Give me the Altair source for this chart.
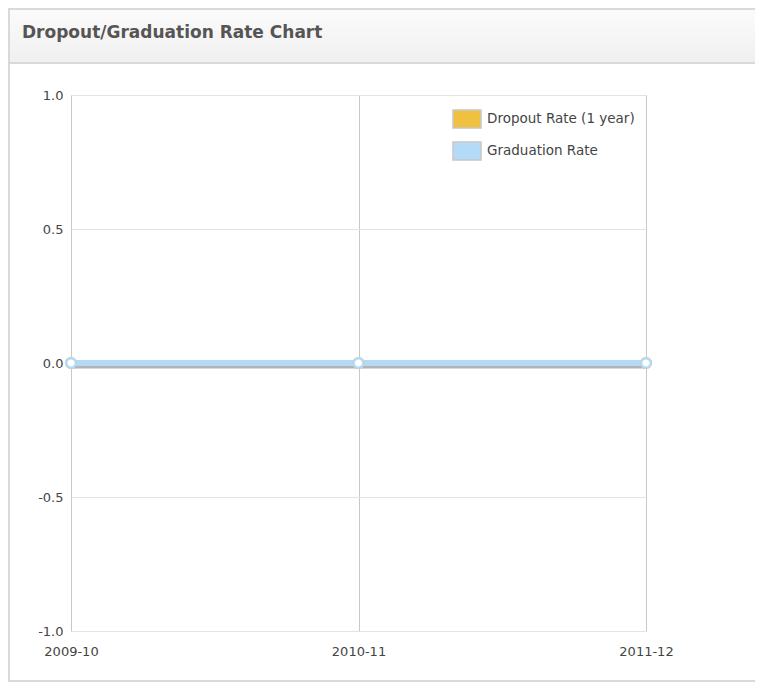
import altair as alt
import pandas as pd

# ---- data ----
years = ["2009-10", "2010-11", "2011-12"]
dropout_rate = [0.0, 0.0, 0.0]
graduation_rate = [0.0, 0.0, 0.0]
series_names = ["Dropout Rate (1 year)", "Graduation Rate"]
series_colors = ["#f0c040", "#b3daf7"]
y_ticks = [-1.0, -0.5, 0.0, 0.5, 1.0]
chart_title = "Dropout/Graduation Rate Chart"

rows = []
for name, vals in zip(series_names, [dropout_rate, graduation_rate]):
    for yr, v in zip(years, vals):
        rows.append({"year": yr, "series": name, "value": v})
df = pd.DataFrame(rows)

# ---- layout ----
W, H = 575, 536
PAD_L, PAD_T = 63, 87
TOTAL_W, TOTAL_H = 747, 674
FONT = "DejaVu Sans"

x_enc = alt.X(
    "year:N", sort=years,
    scale=alt.Scale(type="point", padding=0),
    axis=alt.Axis(title=None, labelAngle=0, ticks=False, domain=False,
                  labelPadding=14, grid=True, gridColor="#c8c8c8",
                  labelFontSize=13, labelColor="#444444", labelFont=FONT),
)
y_enc = alt.Y(
    "value:Q", stack=None,
    scale=alt.Scale(domain=[-1, 1], nice=False, zero=False),
    axis=alt.Axis(title=None, values=y_ticks, ticks=False,
                  labelExpr="datum.value < 0 ? '-' + format(-datum.value, '.1f') : format(datum.value, '.1f')",
                  domain=False, labelPadding=8, gridColor="#e3e3e3",
                  labelFontSize=13, labelColor="#444444", labelFont=FONT),
)

base = alt.Chart(df)
deco = alt.Chart(alt.Data(values=[{"k": 1}]))

panel = deco.mark_rect(fillOpacity=0, stroke="#d9d9d9", strokeWidth=2).encode(
    x=alt.value(-PAD_L + 1), x2=alt.value(TOTAL_W - PAD_L + 20),
    y=alt.value(-PAD_T + 1), y2=alt.value(TOTAL_H - PAD_T - 1),
)
header = deco.mark_rect(
    fill=alt.Gradient(gradient="linear", x1=0, y1=0, x2=0, y2=1,
                      stops=[alt.GradientStop(color="#fbfbfb", offset=0),
                             alt.GradientStop(color="#f0f0f0", offset=1)]),
    stroke="#d9d9d9", strokeWidth=2,
).encode(
    x=alt.value(-PAD_L + 1), x2=alt.value(TOTAL_W - PAD_L + 20),
    y=alt.value(-PAD_T + 1), y2=alt.value(-32),
)
title = deco.mark_text(
    text=chart_title, align="left", baseline="middle", font=FONT,
    fontWeight="bold", fontSize=17, color="#555555",
).encode(x=alt.value(-49), y=alt.value(-62))

legend_props = dict(
    title=None, orient="none", legendX=381, legendY=9, padding=0,
    symbolType="M-1,-0.64L1,-0.64L1,0.64L-1,0.64Z", symbolSize=784,
    symbolStrokeWidth=1.5, symbolOpacity=1,
    labelFontSize=13.5, labelColor="#444444", labelFont=FONT,
    labelOffset=5, rowPadding=5,
)
legend_area = base.mark_area(opacity=1, strokeWidth=1.5).encode(
    x=x_enc, y=y_enc, y2=alt.datum(0),
    fill=alt.Fill("series:N", scale=alt.Scale(domain=series_names, range=series_colors),
                  legend=alt.Legend(**legend_props)),
    stroke=alt.Stroke("series:N",
                      scale=alt.Scale(domain=series_names, range=["#c8c8c8", "#c8c8c8"]),
                      legend=alt.Legend(**legend_props)),
)

shadow = base.mark_line(color="#000000", opacity=0.16, strokeWidth=5, yOffset=3).encode(
    x=x_enc, y=y_enc, detail="series:N"
)

series_layers = []
for name, col in zip(series_names, series_colors):
    sub = base.transform_filter(alt.datum.series == name)
    series_layers.append(sub.mark_line(strokeWidth=6, color=col).encode(x=x_enc, y=y_enc))
for name, col in zip(series_names, series_colors):
    sub = base.transform_filter(alt.datum.series == name)
    series_layers.append(
        sub.mark_point(filled=False, fill="white", fillOpacity=1, size=95,
                       strokeWidth=2.5, opacity=1, stroke=col).encode(x=x_enc, y=y_enc)
    )

chart = alt.layer(panel, header, title, legend_area, shadow, *series_layers).properties(
    width=W, height=H,
    autosize=alt.AutoSizeParams(type="none"),
    padding={"left": PAD_L, "top": PAD_T, "right": TOTAL_W - PAD_L - W,
             "bottom": TOTAL_H - PAD_T - H},
).configure_view(stroke="#cccccc", strokeWidth=1.5).configure(background="white")

chart.save("out.html", embed_options={"renderer": "svg", "actions": False})
